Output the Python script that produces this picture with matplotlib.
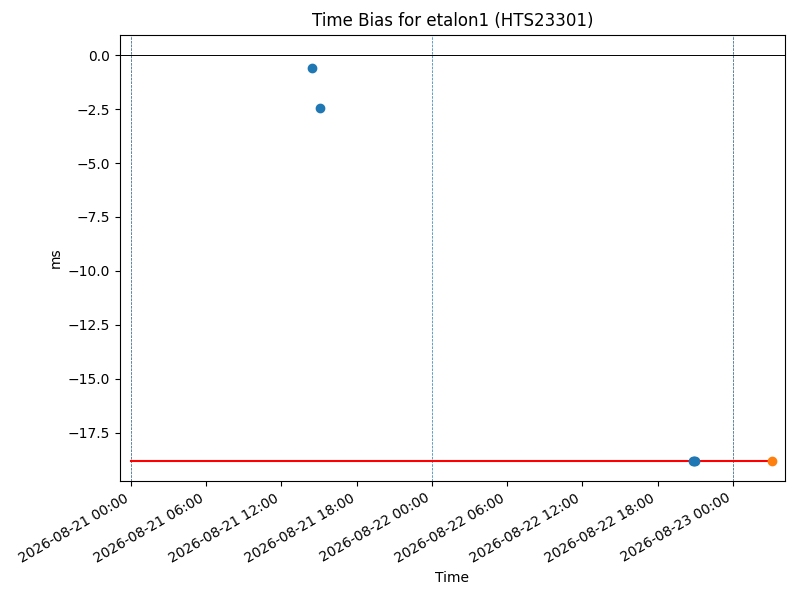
import matplotlib
matplotlib.use('Agg')
import matplotlib.pyplot as plt
import matplotlib.dates as mdates
import pandas as pd

# measured time bias points
bias_times = pd.to_datetime(['2026-08-21 14:27', '2026-08-21 15:04',
                             '2026-08-22 20:52', '2026-08-22 20:56',
                             '2026-08-22 21:00'])
bias_ms = [-0.62, -2.43, -18.8, -18.8, -18.8]

# latest point and the reference level
last_time = pd.to_datetime(['2026-08-23 03:06'])
last_ms = [-18.8]
level_ms = -18.8
level_start = pd.Timestamp('2026-08-21 00:00')

day_marks = pd.to_datetime(['2026-08-21', '2026-08-22', '2026-08-23'])
edge_marks = pd.to_datetime(['2026-08-21', '2026-08-23'])

fig, ax = plt.subplots(figsize=(8, 6), dpi=100)

for d in day_marks:
    ax.axvline(d, color='C0', ls='--', lw=0.5)
for d in edge_marks:
    ax.axvline(d, color='0.4', ls='--', lw=0.5, alpha=0.6)
ax.axhline(0, color='black', lw=0.7)

ax.plot([level_start, last_time[0]], [level_ms, level_ms], color='red', lw=1.5)
ax.scatter(bias_times, bias_ms, color='C0', zorder=3)
ax.scatter(last_time, last_ms, color='C1', zorder=3)

ax.set_xlim(pd.Timestamp('2026-08-20 23:07'), pd.Timestamp('2026-08-23 04:09'))
ax.xaxis.set_major_locator(mdates.HourLocator(byhour=[0, 6, 12, 18]))
ax.xaxis.set_major_formatter(mdates.DateFormatter('%Y-%m-%d %H:%M'))
plt.setp(ax.get_xticklabels(), rotation=30, ha='right')

ax.set_title('Time Bias for etalon1 (HTS23301)')
ax.set_xlabel('Time')
ax.set_ylabel('ms')

fig.subplots_adjust(left=0.15, right=0.981, top=0.942, bottom=0.198)
fig.savefig('out.png', dpi=100)
